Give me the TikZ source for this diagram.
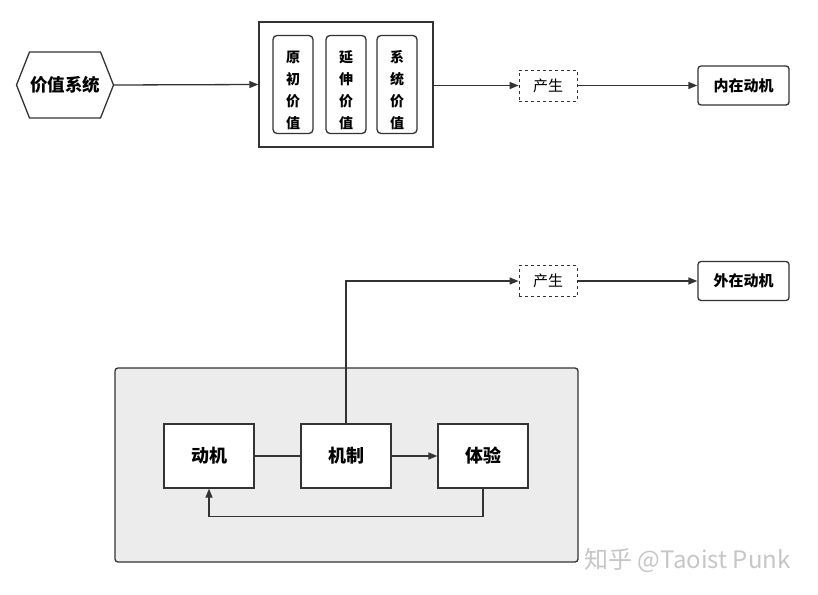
\documentclass[tikz,border=0pt]{standalone}
\usepackage{fontspec}
\setmainfont{Noto Sans CJK SC}
\usetikzlibrary{arrows.meta,shapes.symbols}
\definecolor{linegray}{HTML}{333333}
\definecolor{boxfill}{HTML}{ECECEC}
\newcommand{\vstrut}{\rule{0pt}{24pt}}
\tikzset{
  conn/.style={draw=linegray, line width=1.3pt},
  arr/.style={conn, -{Triangle[length=9pt,width=7pt]}},
  plainbox/.style={draw=linegray, line width=1.3pt, fill=white, minimum width=90pt, minimum height=64pt, font=\fontsize{18}{20}\selectfont\bfseries},
  valbox/.style={draw=linegray, line width=1.3pt, rounded corners=4pt, minimum width=40pt, minimum height=95pt, align=center, font=\fontsize{14}{22}\selectfont\bfseries},
  dashbox/.style={draw=linegray, dashed, line width=0.8pt, minimum width=58pt, minimum height=31pt, font=\fontsize{15}{17}\selectfont},
  goalbox/.style={draw=linegray, line width=1.3pt, rounded corners=3pt, minimum width=91pt, minimum height=39pt, font=\fontsize{15}{17}\selectfont\bfseries}
}
\begin{document}
\begin{tikzpicture}[x=1pt, y=-1pt]
\useasboundingbox (0,0) rectangle (818,594);
% top row
\node[draw=linegray, line width=1.3pt, shape=signal, signal to=east and west, signal pointer angle=137,
  minimum width=97pt, minimum height=66pt, inner sep=0pt, font=\fontsize{17.5}{19}\selectfont\bfseries] (valsys) at (65,85) {价值系统};
\node[draw=linegray, line width=1.3pt, minimum width=174pt, minimum height=125pt] (valgroup) at (346,84.5) {};
\node[valbox] (orig) at (293,84.5) {\vstrut 原\\初\\价\\值};
\node[valbox] (ext) at (346,84.5) {\vstrut 延\\伸\\价\\值};
\node[valbox] (sys) at (397,84.5) {\vstrut 系\\统\\价\\值};
\node[dashbox] (gen1) at (548,85.5) {产生};
\node[goalbox] (inner) at (743.5,85.5) {内在动机};
\draw[arr] (valsys.east) -- (valgroup.west);
\draw[arr] (valgroup.east |- gen1) -- (gen1.west);
\draw[arr] (gen1.east) -- (inner.west);
% bottom row
\draw[draw=linegray, line width=1.3pt, fill=boxfill, rounded corners=3pt] (115,368) rectangle (578,562);
\node[plainbox] (motive) at (209,456) {动机};
\node[plainbox] (mech) at (346,456) {机制};
\node[plainbox] (exper) at (483,456) {体验};
\node[dashbox] (gen2) at (548,281) {产生};
\node[goalbox] (outer) at (743.5,281) {外在动机};
\draw[conn] (motive.east) -- (mech.west);
\draw[arr] (mech.east) -- (exper.west);
\draw[arr] (exper.south) -- ++(0,28) -| (motive.south);
\draw[arr] (mech.north) |- (gen2.west);
\draw[arr] (gen2.east) -- (outer.west);
% watermark
\node[text=gray!45, font=\fontsize{24}{26}\selectfont, anchor=west] (mark) at (581,560) {知乎 @Taoist Punk};
\end{tikzpicture}
\end{document}
